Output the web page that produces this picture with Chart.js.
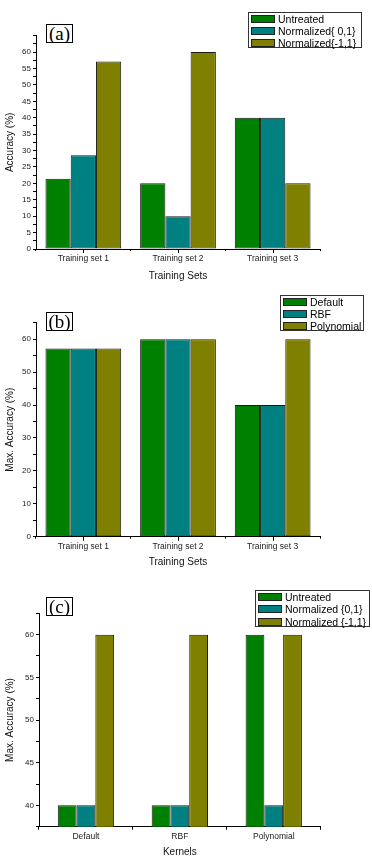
<!DOCTYPE html>
<html><head><meta charset="utf-8">
<script src="https://cdn.jsdelivr.net/npm/chart.js@4.4.0/dist/chart.umd.min.js"></script>
<style>
html,body{margin:0;padding:0;background:#fff;width:372px;height:860px;overflow:hidden;}
.panel{position:absolute;left:0;width:372px;}
canvas{display:block;}
.tag{position:absolute;border:1.5px solid #000;box-sizing:border-box;font-family:"Liberation Serif","Times New Roman",serif;font-size:19px;text-align:center;overflow:hidden;line-height:18px;background:#fff;color:#000;}
.legend{position:absolute;border:1px solid #333;background:#fff;font-family:"Liberation Sans",Arial,sans-serif;font-size:10.5px;color:#000;box-sizing:border-box;padding:0 0 0 2px;}
.row{display:flex;align-items:center;white-space:nowrap;}
.sw{width:24px;height:8px;border:1px solid #222;box-sizing:border-box;margin-right:3px;flex:none;}
</style></head>
<body>
<div class="panel" style="top:0;height:285px"><canvas id="ca" width="372" height="285"></canvas></div>
<div class="panel" style="top:285px;height:285px"><canvas id="cb" width="372" height="285"></canvas></div>
<div class="panel" style="top:570px;height:290px"><canvas id="cc" width="372" height="290"></canvas></div>
<div class="tag" style="left:46px;top:24px;width:27px;height:19px">(a)</div>
<div class="tag" style="left:46px;top:312px;width:27px;height:19px">(b)</div>
<div class="tag" style="left:46px;top:597px;width:27px;height:19px">(c)</div>
<div class="legend" id="la" style="left:248px;top:12px;width:114px;height:36px"></div>
<div class="legend" id="lb" style="left:280px;top:295px;width:84px;height:36px"></div>
<div class="legend" id="lc" style="left:255px;top:590px;width:115px;height:37px"></div>
<script>
// ---- data ----
const setCategories = ['Training set 1', 'Training set 2', 'Training set 3'];
const kernelCategories = ['Default', 'RBF', 'Polynomial'];

const aSeriesNames = ['Untreated', 'Normalized{ 0,1}', 'Normalized{-1,1}'];
const aUntreated = [21.43, 20, 40];
const aNorm01 = [28.57, 10, 40];
const aNormM11 = [57.14, 60, 20];

const bSeriesNames = ['Default', 'RBF', 'Polynomial'];
const bDefault = [57.14, 60, 40];
const bRBF = [57.14, 60, 40];
const bPolynomial = [57.14, 60, 60];

const cSeriesNames = ['Untreated', 'Normalized {0,1}', 'Normalized {-1,1}'];
const cUntreated = [40, 40, 60];
const cNorm01 = [40, 40, 40];
const cNormM11 = [60, 60, 60];

const seriesColors = ['#008000', '#008080', '#808000'];

// ---- builder ----
const FONT = '"Liberation Sans", Arial, sans-serif';
function buildLegend(id, names, rowH) {
  const el = document.getElementById(id);
  names.forEach((n, i) => {
    const r = document.createElement('div');
    r.className = 'row';
    r.style.height = rowH + 'px';
    const s = document.createElement('span');
    s.className = 'sw';
    s.style.background = seriesColors[i];
    const t = document.createElement('span');
    t.textContent = n;
    r.appendChild(s); r.appendChild(t);
    el.appendChild(r);
  });
}

// tick marks at category centres (drawn through the x scale)
const centerTicks = {
  id: 'centerTicks',
  afterDraw(chart, args, opts) {
    if (!opts.enabled) return;
    const x = chart.scales.x, ctx = chart.ctx, y0 = chart.chartArea.bottom;
    ctx.save();
    ctx.strokeStyle = '#000';
    ctx.lineWidth = 1;
    ctx.beginPath();
    for (let i = 0; i < chart.data.labels.length; i++) {
      const px = Math.round(x.getPixelForValue(i)) + 0.5;
      ctx.moveTo(px, y0);
      ctx.lineTo(px, y0 + 4);
    }
    ctx.stroke();
    ctx.restore();
  }
};

function makeChart(id, cats, names, series, g) {
  const canvas = document.getElementById(id);
  const H = canvas.height;
  return new Chart(canvas, {
    type: 'bar',
    plugins: [centerTicks],
    data: {
      labels: cats,
      datasets: series.map((d, i) => ({
        label: names[i],
        data: d,
        backgroundColor: seriesColors[i],
        borderColor: '#1a1a1a',
        borderWidth: 1,
        borderSkipped: false,
        barPercentage: 1.0,
        categoryPercentage: g.catPct
      }))
    },
    options: {
      responsive: false,
      animation: false,
      devicePixelRatio: 1,
      layout: { padding: { left: 0, right: 372 - g.right, top: g.top, bottom: 0 } },
      plugins: { legend: { display: false }, tooltip: { enabled: false }, centerTicks: { enabled: g.centerTicks } },
      scales: {
        x: {
          type: 'category',
          offset: true,
          afterFit: s => { s.height = H - g.bottom; },
          grid: { offset: true, drawOnChartArea: false, drawTicks: true, tickLength: g.centerTicks ? 2 : 3, color: '#000', tickColor: '#000' },
          border: { display: true, color: '#000', width: 1 },
          ticks: { font: { family: FONT, size: 8.5 }, color: '#222', padding: g.centerTicks ? 3 : 2, maxRotation: 0, autoSkip: false },
          title: { display: true, text: g.xTitle, font: { family: FONT, size: 10 }, color: '#111', padding: { top: 0, bottom: g.xtPad } }
        },
        y: {
          min: g.min, max: g.max,
          afterFit: s => { s.width = g.left; },
          grid: { drawOnChartArea: false, drawTicks: true, tickLength: 3, color: '#000', tickColor: '#000' },
          border: { display: true, color: '#000', width: 1 },
          ticks: {
            stepSize: g.minor, autoSkip: false, font: { family: FONT, size: 8 }, color: '#222', padding: 2,
            callback: v => (v !== g.max && Math.abs(v / g.major - Math.round(v / g.major)) < 1e-6 ? v : '')
          },
          title: { display: true, text: g.yTitle, font: { family: FONT, size: 10 }, color: '#111', padding: { top: 4, bottom: 0 } }
        }
      }
    }
  });
}

makeChart('ca', setCategories, aSeriesNames, [aUntreated, aNorm01, aNormM11],
  { left: 36, right: 320, top: 35.7, bottom: 249, min: 0, max: 65, minor: 2.5, major: 5, catPct: 0.8,
    xTitle: 'Training Sets', yTitle: 'Accuracy (%)', xtPad: 3, centerTicks: true });
makeChart('cb', setCategories, bSeriesNames, [bDefault, bRBF, bPolynomial],
  { left: 36, right: 320, top: 37.7, bottom: 251.7, min: 0, max: 65, minor: 5, major: 10, catPct: 0.8,
    xTitle: 'Training Sets', yTitle: 'Max. Accuracy (%)', xtPad: 1.3, centerTicks: true });
makeChart('cc', kernelCategories, cSeriesNames, [cUntreated, cNorm01, cNormM11],
  { left: 39, right: 320.7, top: 43.3, bottom: 256.7, min: 37.5, max: 62.5, minor: 2.5, major: 5, catPct: 0.6,
    xTitle: 'Kernels', yTitle: 'Max. Accuracy (%)', xtPad: 1.3, centerTicks: false });

buildLegend('la', aSeriesNames, 12);
buildLegend('lb', bSeriesNames, 12);
buildLegend('lc', cSeriesNames, 12.3);
</script>
</body></html>
